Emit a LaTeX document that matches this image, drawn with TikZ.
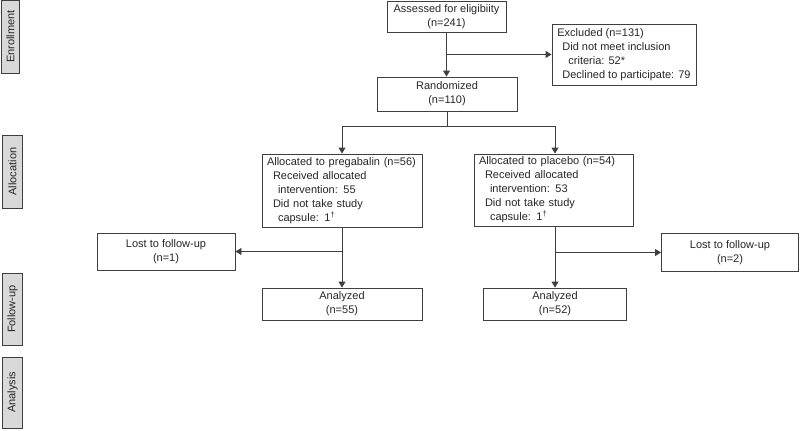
\documentclass[tikz,border=0pt]{standalone}
\usepackage{fontspec}
\setmainfont{Liberation Sans}
\usepackage{xcolor}
\usepackage{tikz}
\usetikzlibrary{arrows.meta}

\definecolor{linegray}{HTML}{3F3F3F}
\definecolor{textgray}{HTML}{262626}
\definecolor{stagefill}{HTML}{D9D9D9}

\begin{document}
\begin{tikzpicture}[x=1bp, y=-1bp, >={Triangle[length=6bp, width=7bp]},
    every node/.style={text=textgray, font=\fontsize{11bp}{14bp}\selectfont},
    box/.style={draw=linegray, line width=0.9bp, rectangle, inner sep=0pt, align=center},
    listbox/.style={box, align=left, inner xsep=5bp},
    stage/.style={draw=linegray, line width=1bp, fill=stagefill, rotate=90, inner sep=0pt},
    flow/.style={draw=linegray, line width=0.9bp}]
       \useasboundingbox (0,0) rectangle (800,430);

       % stage labels
       \node [stage, minimum width=73bp, minimum height=18bp] (enrol) at (10.5, 36.5) {Enrollment};
       \node [stage, minimum width=73bp, minimum height=19bp] (alloc) at (12.5, 171.5) {Allocation};
       \node [stage, minimum width=72bp, minimum height=19bp] (follow) at (12.5, 309) {Follow-up};
       \node [stage, minimum width=71bp, minimum height=19bp] (analys) at (12.5, 392.5) {Analysis};

       % enrollment
       \node [box, minimum width=119bp, minimum height=31bp] (assess) at (446.5, 16.5) {Assessed for eligibiity\\(n=241)};
       \node [box, align=left, minimum width=144bp, minimum height=61bp] (excl) at (624, 54.5)
              {Excluded (n=131)\\\hspace*{5bp}Did not meet inclusion\\\hspace*{11bp}criteria: 52*\\\hspace*{5bp}Declined to participate: 79};
       \node [box, minimum width=140bp, minimum height=34bp] (rand) at (447, 94) {Randomized\\(n=110)};

       % allocation
       \node [listbox, text width=150bp, minimum height=73bp] (pre) at (342, 190.5)
              {Allocated to pregabalin (n=56)\\\hspace*{6bp}Received allocated\\\hspace*{11bp}intervention: 55\\\hspace*{6bp}Did not take study\\\hspace*{11bp}capsule: 1\textsuperscript{†}};
       \node [listbox, text width=149bp, minimum height=72bp] (pla) at (553.5, 190)
              {Allocated to placebo (n=54)\\\hspace*{6bp}Received allocated\\\hspace*{11bp}intervention: 53\\\hspace*{6bp}Did not take study\\\hspace*{11bp}capsule: 1\textsuperscript{†}};

       % follow-up
       \node [box, minimum width=138bp, minimum height=37bp] (lost1) at (166, 251.5) {Lost to follow-up\\(n=1)};
       \node [box, minimum width=137bp, minimum height=38bp] (lost2) at (730, 252.5) {Lost to follow-up\\(n=2)};
       \node [box, minimum width=160bp, minimum height=32bp] (ana1) at (342, 304) {Analyzed\\(n=55)};
       \node [box, minimum width=143bp, minimum height=32bp] (ana2) at (555, 304) {Analyzed\\(n=52)};

       % connectors
       \coordinate (fork) at (447, 126);
       \draw [flow, ->] (assess.south) -- (assess.south |- rand.north);
       \draw [flow, ->] (assess.south |- excl.west) -- (excl.west);
       \draw [flow] (rand.south) -- (fork);
       \draw [flow, ->] (fork) -| (pre.north -| ana1.north);
       \draw [flow, ->] (fork) -| (pla.north -| ana2.north);

       \draw [flow, ->] (pre.south -| ana1.north) -- (ana1.north);
       \draw [flow, ->] (ana1.north |- lost1.east) -- (lost1.east);
       \draw [flow, ->] (pla.south -| ana2.north) -- (ana2.north);
       \draw [flow, ->] (ana2.north |- lost2.west) -- (lost2.west);
\end{tikzpicture}
\end{document}
